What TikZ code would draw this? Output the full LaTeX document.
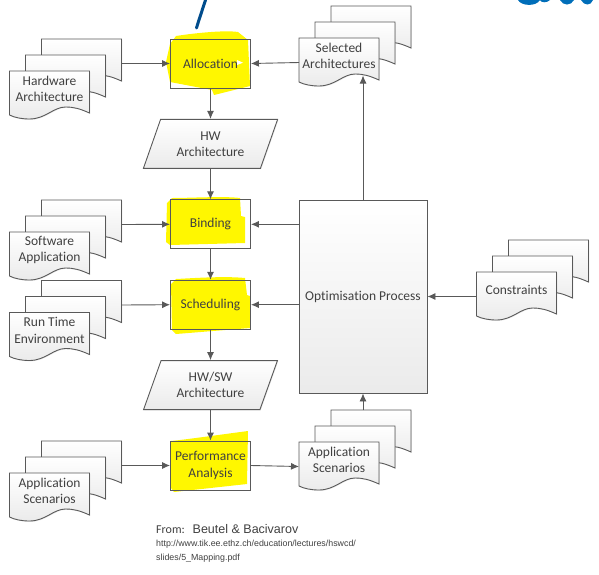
\documentclass[tikz,border=0pt]{standalone}
\usepackage{fontspec}
\setmainfont[Ligatures=NoCommon]{Carlito}
\newfontfamily\citefont{Liberation Sans}
\usetikzlibrary{positioning,shadows,shapes.geometric,arrows.meta}
\definecolor{marker}{RGB}{255,247,0}
\definecolor{inkline}{RGB}{89,89,89}
\definecolor{inktext}{RGB}{64,64,64}
\definecolor{penblue}{RGB}{0,76,140}
\definecolor{logoblue}{RGB}{0,110,185}
\tikzset{
  softshadow/.style={drop shadow={shadow xshift=.8pt,shadow yshift=-.8pt,opacity=.18}},
  sheetfill/.style={draw=inkline,line width=.9pt,top color=white,bottom color=black!8,softshadow},
  procbox/.style={draw=inkline,line width=.9pt,minimum width=80pt,minimum height=49pt,
    align=center,text=inktext,font=\fontsize{13.5}{16.3}\selectfont,inner sep=0pt},
  flowbox/.style={procbox,top color=white,bottom color=black!8,softshadow},
  databox/.style={flowbox,trapezium,trapezium left angle=65,trapezium right angle=115,
    trapezium stretches=true,minimum width=135pt},
  hili/.style={fill=marker,draw=none},
  arrow/.style={draw=inkline,line width=.9pt,-{Latex[length=8pt,width=7pt]}},
  doclabel/.style={align=center,text=inktext,font=\fontsize{13.5}{16.3}\selectfont,inner sep=0pt},
  docstack/.pic={
    \foreach \dx/\dy in {32/-32,16/-16,0/0}{
      \path[sheetfill] (\dx-40,\dy-24.5) -- (\dx+40,\dy-24.5) -- (\dx+40,\dy+17.5)
        .. controls (\dx+30,\dy+13) and (\dx+24,\dy+11.5) .. (\dx+16,\dy+11.5)
        .. controls (\dx+4,\dy+11.5) and (\dx-4,\dy+23.5) .. (\dx-20,\dy+23.5)
        .. controls (\dx-28,\dy+23.5) and (\dx-35,\dy+22) .. (\dx-40,\dy+19.5) -- cycle;
    }
    \node[doclabel] (-label) at (0,-6.5) {\tikzpictext};
    \coordinate (-in) at (-40,0);
    \coordinate (-out) at (72,-32);
    \coordinate (-wave) at (24,13);
    \coordinate (-top) at (32,-56.5);
  }
}
\begin{document}
\begin{tikzpicture}[x=1pt,y=-1pt,node distance=80.4pt]
\useasboundingbox (0,0) rectangle (599,574);

% marker strokes
\path[hili] (170,44) -- (176,36) .. controls (195,33) and (225,30) .. (238,32) -- (248,40) -- (250,86) -- (214,95) -- (212,90) -- (170,82) -- (166,62) -- cycle;
\path[hili] (167,203) -- (172,198) .. controls (190,198) and (225,196) .. (240,198) -- (241,216) -- (245,217) -- (245,243) -- (170,245) -- (166,242) -- cycle;
\path[hili] (171,284) -- (176,279) .. controls (195,278) and (225,276) .. (245,278) -- (247,295) -- (250,296) -- (250,328) -- (176,334) -- (172,330) -- cycle;
\path[hili] (171,441) .. controls (190,439) and (225,434) .. (248,431) -- (247,484) -- (174,492) -- (171,488) -- cycle;

% process column
\node[procbox](alloc) at (210.5,63.5){Allocation};
\node[databox,below of=alloc](hwdata){HW\\Architecture};
\node[procbox,below of=hwdata](bind){Binding};
\node[procbox,below of=bind](sched){Scheduling};
\node[databox,below of=sched](swdata){HW/SW\\Architecture};
\node[procbox,below of=swdata](perf){Performance\\Analysis};
\path[fill=white] (237,60) -- (243,62.7) -- (237,65) -- cycle;

% optimiser
\node[flowbox,minimum width=128pt,minimum height=193pt](optim) at (363,296.5){Optimisation Process};

% stacks
\path (49.5,95.5) pic (hwarch) [pic text={Hardware\\Architecture}] {docstack};
\path (49.5,256.5) pic (swapp) [pic text={Software\\Application}] {docstack};
\path (49.5,337) pic (rtenv) [pic text={Run Time\\Environment}] {docstack};
\path (49.5,497.5) pic (appin) [pic text={Application\\Scenarios}] {docstack};
\path (339,62.5) pic (selarch) [pic text={Selected\\Architectures}] {docstack};
\path (516.5,296.5) pic (constr) [pic text={Constraints}] {docstack};
\path (339,466.5) pic (appout) [pic text={Application\\Scenarios}] {docstack};

% arrows
\path[arrow](hwarch-out)--(alloc.west);
\path[arrow](swapp-out)--(bind.west);
\path[arrow](rtenv-out)--(sched.west);
\path[arrow](appin-out)--(perf.west);
\path[arrow](alloc)--(hwdata);
\path[arrow](hwdata)--(bind);
\path[arrow](bind)--(sched);
\path[arrow](sched)--(swdata);
\path[arrow](swdata)--(perf);
\path[arrow](selarch-in)--(alloc.east);
\path[arrow](optim.west|-bind)--(bind.east);
\path[arrow](optim.west|-sched)--(sched.east);
\path[arrow](optim.north)--(selarch-wave);
\path[arrow](constr-in)--(optim.east);
\path[arrow](perf.east)--(appout-in);
\path[arrow](optim.south|-appout-top)--(optim.south);

% credit
\node[anchor=base west,inner sep=0pt,text=inktext,font=\fontsize{12}{14}\selectfont](from) at (156,533){From:};
\node[anchor=base west,inner sep=0pt,text=inktext,font=\citefont\fontsize{12.5}{14}\selectfont](names) at (192.5,533){Beutel \& Bacivarov};
\node[anchor=base west,inner sep=0pt,text=inktext,font=\citefont\fontsize{8.85}{10}\selectfont](url) at (156,546){http://www.tik.ee.ethz.ch/education/lectures/hswcd/};
\node[anchor=base west,inner sep=0pt,text=inktext,font=\citefont\fontsize{8.85}{10}\selectfont](pdf) at (156,560){slides/5\_Mapping.pdf};

% pen stroke and logo edge
\draw[penblue,line width=3pt,line cap=round](205.5,0) -- (198,23) -- (196.5,28);
\fill[logoblue] (518,0) .. controls (521,6) and (536,7) .. (540,0) -- cycle;
\fill[logoblue] (540,0) .. controls (541,3) and (547,3) .. (550,0) -- cycle;
\fill[logoblue] (560,0) .. controls (563,6) and (571,6) .. (574,0) -- cycle;
\fill[logoblue] (581,0) .. controls (584,6) and (591,6) .. (593,0) -- cycle;
\end{tikzpicture}
\end{document}
